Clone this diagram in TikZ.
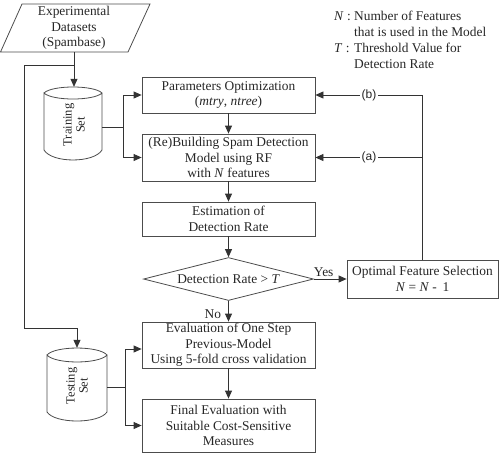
\documentclass[tikz,border=0pt]{standalone}
\usepackage{fontspec}
\setmainfont{Liberation Serif}
\newfontfamily\sansf{Liberation Sans}
\usetikzlibrary{arrows.meta,shapes.geometric,calc}
\begin{document}
\begin{tikzpicture}[x=1pt,y=-1pt,
  every node/.style={font=\fontsize{13.4}{15.5}\selectfont, text=black!85},
  box/.style={draw=black!70, line width=0.8pt, align=center, inner sep=0pt, minimum width=173pt},
  shp/.style={draw=black!70, line width=0.8pt},
  conn/.style={draw=black!80, line width=0.8pt},
  arr/.style={conn, -{Triangle[length=8pt,width=7pt]}},
  lab/.style={fill=white, inner sep=1.5pt, font=\sansf\fontsize{12}{14}\selectfont},
  cyltext/.style={rotate=90, align=center, font=\fontsize{12.5}{13}\selectfont}
]
\useasboundingbox (0,0) rectangle (503,453);

% input data (parallelogram)
\draw[shp] (22,4) -- (150,4) -- (128,52) -- (0.5,52) -- cycle;
\node[align=center, inner sep=0pt, minimum width=128pt, minimum height=48pt] (data) at (74,28)
  {Experimental\\Datasets\\(Spambase)};

% training set cylinder
\draw[shp] (44,93) .. controls (52,85) and (94,85) .. (102,93)
           .. controls (94,101) and (52,101) .. (44,93) -- (44,150)
           .. controls (52,163.3) and (94,163.3) .. (102,150) -- (102,93);
\node[inner sep=0pt, minimum width=58pt, minimum height=73pt] (train) at (73,123.5) {};
\node[cyltext] at (74,125) {Training\\Set};

% testing set cylinder
\draw[shp] (47,355) .. controls (55,345.7) and (99,345.7) .. (107,355)
           .. controls (99,364.3) and (55,364.3) .. (47,355) -- (47,412)
           .. controls (55,424) and (99,424) .. (107,412) -- (107,355);
\node[inner sep=0pt, minimum width=60pt, minimum height=72pt] (test) at (77,384) {};
\node[cyltext] at (77,386) {Testing\\Set};

% process boxes
\node[box, minimum height=36pt] (param) at (228.5,95) {Parameters Optimization\\(\textit{mtry}, \textit{ntree})};
\node[box, minimum height=47pt] (rebuild) at (228.5,157.5) {(Re)Building Spam Detection\\Model using RF\\with \textit{N} features};
\node[box, minimum height=34pt] (estim) at (228.5,219) {Estimation of\\Detection Rate};
\node[shp, diamond, aspect=3.95, inner sep=0pt, minimum width=170pt, minimum height=43pt] (dec) at (228.5,279) {};
\node at (dec) {Detection Rate > \textit{T}};
\node[box, minimum width=151pt, minimum height=38pt] (opt) at (422.5,279) {Optimal Feature Selection\\\textit{N} = \textit{N} -\, 1};
\node[box, minimum height=46pt] (eval) at (228.5,345) {Evaluation of One Step\\Previous-Model\\Using 5-fold cross validation};
\node[box, minimum height=53pt] (final) at (228.5,425.5) {Final Evaluation with\\Suitable Cost-Sensitive\\Measures};

% legend
\node[anchor=base west, inner sep=0pt, font=\fontsize{13.4}{16}\selectfont] (legend) at (334,20)
  {\begin{tabular}[t]{@{}l@{\ }l@{}}\textit{N} : & Number of Features\\ & that is used in the Model\\ \textit{T} : & Threshold Value for\\ & Detection Rate\end{tabular}};

% connectors
\coordinate (sp) at ($(data.south)+(0,13)$);
\draw[arr] (data.south) -- (data.south |- train.north);
\draw[arr] (sp) -| (24,328) -| (test.north);

\draw[conn] ([yshift=-3.5pt]train.east) -- ++(21,0) coordinate (tj);
\draw[arr] (tj) |- (param.west);
\draw[arr] (tj) |- (rebuild.west);

\draw[conn] ([yshift=-3pt]test.east) -- ++(18,0) coordinate (tk);
\draw[arr] (tk) |- ([yshift=-4pt]eval.west);
\draw[arr] (tk) |- (final.west);

\draw[arr] (param.south) -- (rebuild.north);
\draw[arr] (rebuild.south) -- (estim.north);
\draw[arr] (estim.south) -- (dec.north);
\draw[arr] (dec.south) -- node[left, pos=0.62, inner sep=0pt, xshift=-7pt] {No} (eval.north);
\draw[arr] (eval.south) -- (final.north);
\draw[arr] (dec.east) -- node[above, pos=0.3, inner sep=1.5pt] {Yes} (opt.west);

\draw[conn] (opt.north) -- (opt.north |- param.east) coordinate (fb);
\draw[arr] (fb) -- node[lab] {(b)} (param.east);
\draw[arr] (opt.north |- rebuild.east) -- node[lab] {(a)} (rebuild.east);
\end{tikzpicture}
\end{document}
